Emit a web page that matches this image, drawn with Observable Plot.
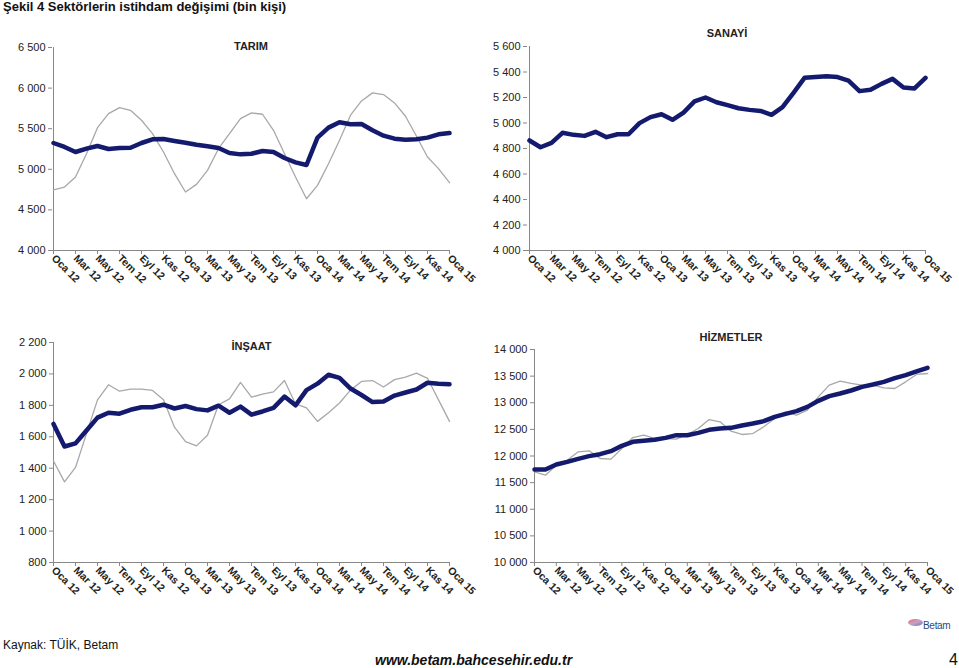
<!DOCTYPE html>
<html><head><meta charset="utf-8">
<script src="https://cdn.jsdelivr.net/npm/d3@7"></script>
<script src="https://cdn.jsdelivr.net/npm/@observablehq/plot@0.6"></script>
<style>
body{margin:0;background:#fff;font-family:"Liberation Sans",Arial,sans-serif;}
#wrap{position:relative;width:959px;height:668px;overflow:hidden;}
.p{position:absolute;}
#title{position:absolute;left:3px;top:-1px;font-weight:bold;font-size:13px;color:#111;}
#src{position:absolute;left:3px;top:638px;font-size:12px;color:#111;}
#url{position:absolute;left:375px;top:652px;font-size:14px;font-weight:bold;font-style:italic;color:#111;}
#pg{position:absolute;left:949px;top:651px;font-size:16px;color:#111;}
#logo{position:absolute;left:908px;top:614px;width:48px;height:20px;}
#logo .sw{position:absolute;left:0;top:5px;width:15px;height:7px;border-radius:50%;background:linear-gradient(160deg,#e46a6a 0%,#c9a0c8 50%,#6c78c0 100%);}
#logo .tx{position:absolute;left:15px;top:6px;font-size:10px;letter-spacing:-0.3px;white-space:nowrap;color:#2b4a7a;}
</style></head>
<body><div id="wrap">
<div id="title">Şekil 4 Sektörlerin istihdam değişimi (bin kişi)</div>
<div id="src">Kaynak: TÜİK, Betam</div>
<div id="url">www.betam.bahcesehir.edu.tr</div>
<div id="pg">4</div>
<div id="logo"><div class="sw"></div><div class="tx">Betam</div></div>
</div>
<script>
const monthNames = ["Oca","Şub","Mar","Nis","May","Haz","Tem","Ağu","Eyl","Eki","Kas","Ara"];
const years = ["12","13","14","15"];
const months = [];
for (const y of years) for (const m of monthNames) if (months.length < 37) months.push(m + " " + y);
const tickLabels = months.filter((d, i) => i % 2 === 0);

const tarimSA = [5324,5275,5213,5254,5287,5250,5262,5266,5324,5369,5373,5349,5328,5303,5283,5262,5201,5184,5192,5225,5213,5139,5086,5053,5390,5513,5579,5554,5558,5480,5414,5377,5365,5369,5390,5431,5447];
const tarimRaw = [4748,4781,4905,5192,5513,5686,5760,5727,5604,5439,5213,4946,4720,4814,4987,5254,5439,5624,5694,5678,5480,5192,4905,4637,4802,5069,5357,5666,5842,5941,5920,5817,5653,5407,5152,5008,4835];
const sanayiSA = [4863,4810,4844,4923,4907,4899,4931,4889,4912,4912,4999,5046,5069,5025,5082,5169,5200,5163,5140,5116,5103,5095,5064,5124,5237,5354,5360,5367,5360,5333,5250,5260,5307,5346,5278,5271,5354];
const insaatSA = [1682,1538,1558,1640,1722,1753,1747,1772,1788,1788,1804,1780,1796,1776,1768,1798,1753,1792,1741,1761,1784,1856,1800,1897,1938,1995,1975,1907,1866,1821,1825,1862,1882,1901,1944,1938,1934];
const insaatRaw = [1446,1313,1405,1620,1835,1931,1890,1903,1903,1895,1835,1661,1569,1542,1610,1804,1841,1946,1852,1872,1886,1958,1809,1784,1698,1753,1815,1897,1952,1958,1917,1964,1979,2005,1972,1835,1698];
const hizmetSA = [11746,11746,11840,11890,11947,11997,12034,12091,12191,12266,12285,12304,12341,12391,12391,12435,12491,12516,12529,12573,12610,12654,12735,12792,12842,12923,13036,13124,13174,13230,13299,13343,13393,13462,13518,13587,13656];
const hizmetRaw = [11703,11640,11828,11922,12078,12097,11953,11941,12141,12347,12391,12329,12329,12316,12404,12516,12685,12641,12466,12404,12422,12548,12704,12829,12767,12861,13111,13330,13405,13362,13330,13330,13280,13268,13393,13531,13549];

const panels = [
  {title:"TARIM", sa:tarimSA, raw:tarimRaw, domain:[4000,6500], step:500, left:0, top:20, w:480, h:290, ml:52, mr:31, mt:27, mb:60, tdy:-1},
  {title:"SANAYİ", sa:sanayiSA, raw:null, domain:[4000,5600], step:200, left:480, top:20, w:479, h:290, ml:47, mr:33, mt:26, mb:60, tdy:-13},
  {title:"İNŞAAT", sa:insaatSA, raw:insaatRaw, domain:[800,2200], step:200, left:0, top:320, w:480, h:300, ml:53, mr:31, mt:22, mb:58, tdy:4},
  {title:"HİZMETLER", sa:hizmetSA, raw:hizmetRaw, domain:[10000,14000], step:500, left:480, top:320, w:479, h:300, ml:54, mr:32, mt:29, mb:58, tdy:-12}
];

const fmt = d => d3.format(",")(d).replace(/,/g, " ");
const wrap = document.getElementById("wrap");
for (const p of panels) {
  const sa = months.map((m, i) => ({m, v: p.sa[i]}));
  const raw = p.raw ? months.map((m, i) => ({m, v: p.raw[i]})) : [];
  const yt = d3.range(p.domain[0], p.domain[1] + 1, p.step);
  const chart = Plot.plot({
    width: p.w, height: p.h,
    marginLeft: p.ml, marginRight: p.mr, marginTop: p.mt, marginBottom: p.mb,
    style: {fontFamily: "'Liberation Sans', Arial, sans-serif", fontSize: "10.5px", color: "#222", background: "transparent", overflow: "visible"},
    x: {type: "point", domain: months, padding: 0},
    y: {domain: p.domain},
    marks: [
      Plot.ruleY([p.domain[0]], {stroke: "#888", strokeWidth: 1}),
      Plot.ruleX([months[0]], {stroke: "#888", strokeWidth: 1}),
      Plot.axisY({ticks: yt, tickFormat: fmt, tickSize: 4, tickPadding: 3, stroke: "#888", label: null, fontSize: 11}),
      Plot.axisX({ticks: tickLabels, tickRotate: 45, tickSize: 4, tickPadding: 2, stroke: "#888", label: null, fontWeight: "bold", fontSize: 10.5}),
      Plot.line(raw, {x: "m", y: "v", stroke: "#a8a8a8", strokeWidth: 1.3}),
      Plot.line(sa, {x: "m", y: "v", stroke: "#141a6e", strokeWidth: 4.5, strokeLinejoin: "round"}),
      Plot.text([p.title], {frameAnchor: "top", dy: p.tdy, fontWeight: "bold", fontSize: 11, fill: "#222", lineAnchor: "middle"})
    ]
  });
  const div = document.createElement("div");
  div.className = "p";
  div.style.left = p.left + "px";
  div.style.top = p.top + "px";
  div.appendChild(chart);
  wrap.appendChild(div);
}
</script>
</body></html>
